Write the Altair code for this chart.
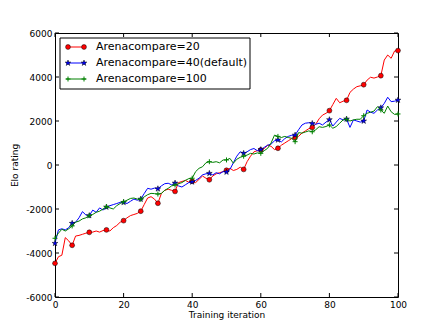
import altair as alt
import pandas as pd

iterations = list(range(101))
series_names = ["Arenacompare=20", "Arenacompare=40(default)", "Arenacompare=100"]

elo_20 = [-4470, -4170, -4100, -3300, -3450, -3650, -3230, -3200, -3150, -3100,
          -3060, -3050, -3000, -3050, -2980, -2950, -3000, -2850, -2750, -2600,
          -2530, -2400, -2300, -2250, -2200, -2100, -1800, -1500, -1440, -1550,
          -1740, -1300, -1150, -1100, -1150, -1200, -800, -750, -700, -780,
          -740, -800, -650, -500, -600, -670, -500, -400, -350, -300,
          -240, -150, -250, -200, -100, -200, 150, 400, 600, 650,
          680, 750, 900, 850, 700, 760, 900, 1000, 1100, 1200,
          1240, 1300, 1450, 1550, 1650, 1700, 1850, 2100, 2270, 2350,
          2470, 2750, 3030, 2830, 2900, 2940, 3300, 3450, 3560, 3600,
          3650, 3860, 3990, 3950, 4000, 4060, 4770, 5000, 4850, 5180, 5200]

elo_40 = [-3560, -2950, -2900, -2950, -2850, -2650, -2600, -2400, -2120, -2270,
          -2300, -2050, -2150, -1950, -2050, -1910, -1850, -1800, -1750, -1700,
          -1700, -1750, -1650, -1550, -1600, -1550, -1300, -1060, -1100, -1050,
          -1080, -950, -850, -830, -900, -820, -950, -1000, -900, -800,
          -770, -700, -600, -450, -400, -380, -450, -350, -400, -300,
          -320, -200, 100, 400, 600, 530, 600, 700, 750, 650,
          700, 800, 900, 950, 1100, 1140, 1050, 1200, 1300, 1350,
          1360, 1600, 1820, 1900, 1920, 1890, 1850, 1900, 1820, 1950,
          2060, 1770, 1950, 2120, 2050, 2090, 1710, 2050, 2000, 1950,
          2000, 2500, 2400, 2350, 2500, 2600, 2800, 3080, 2880, 2900, 2950]

elo_100 = [-3330, -3100, -2920, -3000, -2900, -2770, -2600, -2550, -2450, -2400,
           -2300, -2250, -2150, -2100, -2000, -1890, -1950, -2000, -1850, -1750,
           -1670, -1600, -1520, -1500, -1550, -1560, -1450, -1350, -1290, -1300,
           -1320, -1290, -1150, -1060, -950, -910, -850, -800, -700, -620,
           -600, -300, -150, -80, 100, 150, 120, 150, 100, 230,
           230, 300, 80, 260, 350, 400, 450, 530, 500, 550,
           530, 650, 760, 1000, 1360, 1300, 1250, 1300, 1250, 1210,
           1060, 1470, 1450, 1500, 1550, 1510, 1600, 1740, 1710, 1750,
           1820, 1670, 1750, 1900, 2050, 2080, 2000, 2050, 2080, 2080,
           2240, 2350, 2400, 2450, 2650, 2500, 2350, 2680, 2420, 2300, 2320]

x_ticks = [0, 20, 40, 60, 80, 100]
y_ticks = [-6000, -4000, -2000, 0, 2000, 4000, 6000]
x_title = "Training iteration"
y_title = "Elo rating"

W, H = 343, 264
FONT = "DejaVu Sans"

STAR = ("M0,-1L0.225,-0.309L0.951,-0.309L0.363,0.118L0.588,0.809L0,0.382"
        "L-0.588,0.809L-0.363,0.118L-0.951,-0.309L-0.225,-0.309Z")
PLUS = "M-1,0L1,0M0,-1L0,1"

frames = []
for name, vals in zip(series_names, [elo_20, elo_40, elo_100]):
    frames.append(pd.DataFrame({"it": iterations, "elo": vals, "name": name}))
df = pd.concat(frames, ignore_index=True)

xscale = alt.Scale(domain=[0, 100], nice=False, zero=False)
yscale = alt.Scale(domain=[-6000, 6000], nice=False, zero=False)

x_axis = alt.Axis(orient="bottom", values=x_ticks, title=x_title, labelBaseline="top", labelPadding=3,
                  labelFlush=False, labelOverlap=False, titleX=W / 2, titleY=20,
                  titleBaseline="alphabetic", titleAlign="center")
y_axis = alt.Axis(orient="left", values=y_ticks, title=y_title, labelAlign="right", labelBaseline="middle",
                  labelPadding=3, labelFlush=False, labelOverlap=False,
                  labelExpr="datum.value < 0 ? '-' + format(-datum.value, 'd') : format(datum.value, 'd')",
                  titleAngle=270, titleX=-38, titleY=H / 2, titleBaseline="alphabetic",
                  titleAlign="center")


def xe(field):
    return alt.X(f"{field}:Q", scale=xscale, axis=x_axis)


def ye(field):
    return alt.Y(f"{field}:Q", scale=yscale, axis=y_axis)


styles = {
    series_names[0]: dict(color="#ff0000", marker=dict(shape="circle", filled=True, fill="#ff0000",
                                                        stroke="black", strokeWidth=0.5, size=24)),
    series_names[1]: dict(color="#0000ff", marker=dict(shape=STAR, filled=True, fill="#0000ff",
                                                        stroke="black", strokeWidth=0.5, size=36)),
    series_names[2]: dict(color="#008000", marker=dict(shape=PLUS, filled=False,
                                                        stroke="#008000", strokeWidth=1, size=25)),
}

base = alt.Chart(df)
layers = []
for name in series_names:
    st = styles[name]
    sub = base.transform_filter(alt.datum.name == name)
    layers.append(sub.mark_line(color=st["color"], strokeWidth=1).encode(x=xe("it"), y=ye("elo")))
    layers.append(sub.transform_filter("datum.it % 5 == 0").mark_point(opacity=1, **st["marker"]).encode(
        x=xe("it"), y=ye("elo")))

# inward ticks on all four sides
xt = alt.Chart(pd.DataFrame({"t": x_ticks}))
yt = alt.Chart(pd.DataFrame({"t": y_ticks}))
TL = 4
layers.append(xt.mark_rule(color="black", strokeWidth=1).encode(x=xe("t"), y=alt.value(H), y2=alt.value(H - TL)))
layers.append(xt.mark_rule(color="black", strokeWidth=1).encode(x=xe("t"), y=alt.value(0), y2=alt.value(TL)))
layers.append(yt.mark_rule(color="black", strokeWidth=1).encode(y=ye("t"), x=alt.value(0), x2=alt.value(TL)))
layers.append(yt.mark_rule(color="black", strokeWidth=1).encode(y=ye("t"), x=alt.value(W), x2=alt.value(W - TL)))

# legend box
one = alt.Chart(pd.DataFrame({"k": [0]}))
layers.append(one.mark_rect(fill="white", stroke="black", strokeWidth=1).encode(
    x=alt.value(5), x2=alt.value(195), y=alt.value(5), y2=alt.value(56)))
row_y = [14, 30, 46]
for name, ry in zip(series_names, row_y):
    st = styles[name]
    layers.append(one.mark_rule(color=st["color"], strokeWidth=1).encode(
        x=alt.value(11), x2=alt.value(31), y=alt.value(ry)))
    for mx in (13, 29):
        layers.append(one.mark_point(opacity=1, **st["marker"]).encode(x=alt.value(mx), y=alt.value(ry)))
    layers.append(one.mark_text(align="left", baseline="middle", font=FONT, fontSize=11, color="black").encode(
        x=alt.value(41), y=alt.value(ry), text=alt.value(name)))

chart = alt.layer(*layers).properties(
    width=W, height=H,
    autosize=alt.AutoSizeParams(type="none"),
    padding={"left": 47, "top": 25, "right": 30, "bottom": 24},
    background="white",
).configure_view(stroke="black", strokeWidth=1).configure_axis(
    domain=False, ticks=False, grid=False,
    labelFont=FONT, labelFontSize=9, labelColor="black",
    titleFont=FONT, titleFontSize=9, titleFontWeight="normal", titleColor="black",
)

chart.save("out.html", embed_options={"renderer": "svg", "actions": False})
